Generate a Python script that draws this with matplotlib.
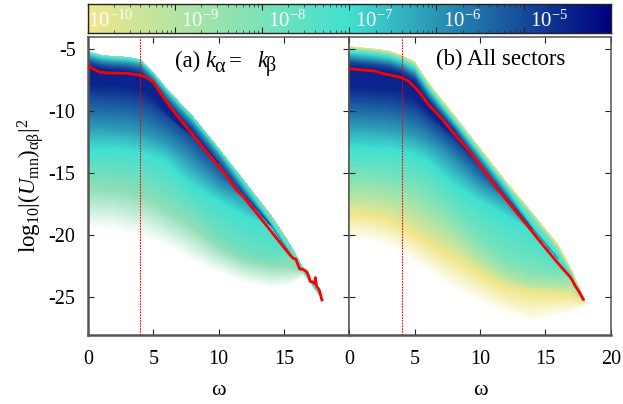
import numpy as np
import matplotlib
matplotlib.use("Agg")
import matplotlib.pyplot as plt
from matplotlib.colors import LinearSegmentedColormap, Normalize

plt.rcParams['font.family'] = ['Liberation Serif', 'DejaVu Serif']
plt.rcParams['mathtext.fontset'] = 'custom'
plt.rcParams['mathtext.rm'] = 'Liberation Serif'
plt.rcParams['mathtext.it'] = 'Liberation Serif:italic'
plt.rcParams['mathtext.bf'] = 'Liberation Serif:bold'

# ---------- red curves ----------
red_a_x = [0.1,0.5,0.9,1.5,2,3,4,4.5,5,5.5,6.05,6.7,8.05,9.3,10.6,11.4,11.9,13.2,14.45,15.4,15.7,15.9,16.2,16.5,16.75,16.9,17.0,17.2,17.35,17.4,17.5,17.7,17.9]
red_a_y = [-6.4,-6.65,-6.85,-6.92,-6.93,-6.95,-7.1,-7.3,-7.65,-8.46,-9.3,-10.2,-11.95,-13.55,-15.2,-16.4,-16.9,-18.6,-20.25,-21.5,-21.85,-21.9,-22.7,-22.75,-22.95,-23.3,-23.7,-23.75,-23.9,-23.4,-24.1,-24.4,-25.2]
red_b_x = [0,1,2,2.5,3,4,4.5,5,5.5,6,7,8,9,10,11,11.3,11.9,13.3,14.6,15.85,16.6,16.9,17.1,17.3,17.5,17.9]
red_b_y = [-6.58,-6.68,-6.77,-6.95,-7.06,-7.3,-7.55,-8.05,-8.65,-9.4,-10.5,-11.8,-13,-14.35,-15.75,-16.2,-17,-18.8,-20.5,-22.1,-23,-23.35,-23.7,-24.1,-24.4,-25.15]

# ---------- panel (a): iso-density tracks, y read at each omega node ----------
om_a = [0,1,2,3,4,5,6,7,8,10,12,14,15.5,16.5,18]
lev_a = [-8.6,-7,-6,-5,-4.5,-4.5,-5,-6,-7,-8,-8.6,-12]
a_edge = [-5.2,-5.5,-5.6,-5.65,-5.85,-6.9,-8.2,-9.3,-10.4,-13.0,-15.7,-18.4,-20.8,-22.7,-25.2]
a_t7   = [-5.4,-5.7,-5.8,-5.85,-6.05,-7.1,-8.4,-9.55,-10.65,-13.25,-16.0,-19.0,-21.5,-22.9,-25.2]
a_t6   = [-5.7,-6.0,-6.1,-6.15,-6.35,-7.4,-8.75,-9.9,-11.0,-13.6,-16.5,-19.2,-21.5,-22.9,-25.2]
a_t5   = [-6.1,-6.4,-6.5,-6.55,-6.8,-7.8,-9.2,-10.4,-11.5,-14.2,-16.8,-19.2,-21.5,-22.9,-25.2]
a_t45  = [-6.4,-6.7,-6.8,-6.85,-7.1,-8.0,-9.4,-10.6,-11.9,-14.2,-16.8,-19.2,-21.5,-22.9,-25.2]
a_b45  = [-7.8,-7.9,-7.9,-8.0,-8.2,-8.8,-10.0,-11.1,-11.9,-14.2,-16.8,-19.2,-21.5,-22.9,-25.2]
a_b5   = [-8.8,-8.9,-8.9,-9.0,-9.2,-9.7,-10.4,-11.2,-12.0,-14.2,-16.8,-19.2,-21.5,-22.9,-25.2]
a_b6   = [-11.1,-11.1,-11.2,-11.3,-11.5,-11.9,-12.4,-13.1,-14.0,-15.8,-16.8,-19.2,-21.5,-22.9,-25.2]
a_b7   = [-13.0,-13.0,-13.0,-13.1,-13.3,-13.6,-14.0,-15.0,-16.0,-17.2,-18.4,-19.2,-21.5,-22.9,-25.2]
a_b8   = [-15.0,-15.0,-15.1,-15.2,-15.5,-15.9,-16.6,-17.3,-18.0,-20.0,-21.3,-22.0,-21.5,-22.9,-25.2]
a_b86  = [-16.2,-16.2,-16.3,-16.5,-16.8,-17.2,-17.9,-18.5,-19.2,-20.8,-21.9,-22.4,-22.4,-22.9,-25.2]
a_fade = [-19.5,-19.5,-19.5,-19.8,-20.0,-20.4,-20.9,-21.4,-22.0,-23.0,-23.8,-24.2,-24.0,-23.2,-25.2]
rows_a = [a_edge,a_t7,a_t6,a_t5,a_t45,a_b45,a_b5,a_b6,a_b7,a_b8,a_b86,a_fade]

# ---------- panel (b) ----------
om_b = [0,1,2,3,4,5,6,7,8,10,12,14,16,17,18]
lev_b = [-10.2,-9,-8,-7,-6,-5,-4.5,-4.5,-5,-6,-7,-8,-9,-10,-12]
b_edge = [-4.8,-4.9,-5.0,-5.15,-5.5,-6.05,-7.65,-9.0,-10.3,-13.0,-15.7,-18.2,-20.8,-22.8,-25.2]
b_t9   = [-4.95,-5.05,-5.15,-5.3,-5.65,-6.25,-7.85,-9.2,-10.5,-13.2,-15.9,-18.4,-21.1,-23.1,-25.2]
b_t8   = [-5.1,-5.2,-5.3,-5.45,-5.8,-6.4,-8.0,-9.35,-10.65,-13.35,-16.05,-18.6,-21.4,-23.2,-25.2]
b_t7   = [-5.3,-5.4,-5.5,-5.65,-6.0,-6.6,-8.2,-9.55,-10.85,-13.55,-16.25,-19.3,-21.9,-23.2,-25.2]
b_t6   = [-5.7,-5.8,-5.9,-6.05,-6.4,-7.0,-8.6,-9.9,-11.2,-13.9,-16.7,-19.5,-21.9,-23.2,-25.2]
b_t5   = [-6.1,-6.2,-6.3,-6.45,-6.8,-7.4,-9.0,-10.3,-11.5,-14.35,-17.0,-19.5,-21.9,-23.2,-25.2]
b_t45  = [-6.5,-6.6,-6.7,-6.85,-7.1,-7.8,-9.3,-10.5,-11.8,-14.35,-17.0,-19.5,-21.9,-23.2,-25.2]
b_b45  = [-8.0,-8.0,-8.1,-8.2,-8.4,-8.9,-9.9,-11.0,-11.8,-14.35,-17.0,-19.5,-21.9,-23.2,-25.2]
b_b5   = [-9.0,-9.0,-9.1,-9.2,-9.4,-9.8,-10.5,-11.4,-12.3,-14.35,-17.0,-19.5,-21.9,-23.2,-25.2]
b_b6   = [-11.0,-11.0,-11.1,-11.2,-11.4,-11.8,-12.3,-13.0,-13.9,-15.8,-17.0,-19.5,-21.9,-23.2,-25.2]
b_b7   = [-12.9,-12.9,-13.0,-13.0,-13.2,-13.5,-14.0,-14.9,-15.9,-17.2,-18.4,-19.5,-21.9,-23.2,-25.2]
b_b8   = [-15.0,-15.0,-15.1,-15.2,-15.5,-15.9,-16.6,-17.3,-18.2,-20.2,-21.8,-22.6,-22.9,-23.2,-25.2]
b_b9   = [-16.7,-16.7,-16.8,-17.0,-17.3,-17.8,-18.5,-19.2,-20.0,-21.8,-23.2,-23.9,-24.0,-24.0,-25.2]
b_b10  = [-18.0,-18.0,-18.2,-18.4,-18.9,-19.6,-20.3,-20.9,-21.5,-22.8,-24.0,-24.4,-24.6,-24.7,-25.3]
b_fade = [-20.4,-20.4,-20.6,-20.9,-21.4,-22.2,-22.9,-23.6,-24.3,-25.4,-26.3,-27.0,-26.5,-26.2,-25.7]
rows_b = [b_edge,b_t9,b_t8,b_t7,b_t6,b_t5,b_t45,b_b45,b_b5,b_b6,b_b7,b_b8,b_b9,b_b10,b_fade]

# ---------- colour bar ----------
cbar_decades = [-10,-9,-8,-7,-6,-5]
cbar_labels = ['$\\mathrm{10^{-10}}$','$\\mathrm{10^{-9}}$','$\\mathrm{10^{-8}}$','$\\mathrm{10^{-7}}$','$\\mathrm{10^{-6}}$','$\\mathrm{10^{-5}}$']

W, H = 623, 404
KHAKI, TURQ, NAVY = '#F0E68C', '#40E0D0', '#000080'

VMIN, VMAX = -12.0, -4.0
def pos(v): return (v - VMIN) / (VMAX - VMIN)
cmap_a = LinearSegmentedColormap.from_list('a', [(0, 'white'), (pos(-8.6), '#8EDDB5'), (pos(-7), TURQ), (1, NAVY)], N=512)
cmap_b = LinearSegmentedColormap.from_list('b', [(0, 'white'), (pos(-10.2), KHAKI), (pos(-7), TURQ), (1, NAVY)], N=512)
cmap_bar = LinearSegmentedColormap.from_list('bar', [KHAKI, TURQ, NAVY], N=512)
norm = Normalize(VMIN, VMAX)

def axpx(l, t, r, b):
    return [l / W, 1 - b / H, (r - l) / W, (b - t) / H]

fig = plt.figure(figsize=(W / 100, H / 100), dpi=100)
axa = fig.add_axes(axpx(88, 36.7, 349.3, 334.7))
axb = fig.add_axes(axpx(349.3, 36.7, 610.7, 334.7))
cax = fig.add_axes(axpx(88, 4, 610.7, 33))

FS = 14.5
GREY = '#555555'
fill_levels = np.linspace(-12.0, -4.4, 153)
for ax, om, rows, lev, cm, rx, ry in ((axa, om_a, rows_a, lev_a, cmap_a, red_a_x, red_a_y),
                                      (axb, om_b, rows_b, lev_b, cmap_b, red_b_x, red_b_y)):
    Y = np.array(rows)
    X = np.tile(np.array(om, float), (len(rows), 1))
    C = np.tile(np.array(lev, float)[:, None], (1, len(om)))
    ax.contourf(X, Y, C, levels=fill_levels, cmap=cm, norm=norm, zorder=1, antialiased=False, extend='max')
    ax.axvline(4, color='red', lw=0.8, ls=(0, (1.5, 1)), zorder=2)
    ax.plot(rx, ry, color='#ff0000', lw=2.0, zorder=3, solid_joinstyle='round')
    ax.set_xlim(0, 20)
    ax.set_ylim(-28, -4)
    ax.set_xticks([0, 5, 10, 15, 20])
    ax.set_yticks([-5, -10, -15, -20, -25])
    ax.tick_params(direction='in', top=True, right=True, length=4, width=0.8, color='#222222', labelsize=FS)
    ax.tick_params(axis='x', pad=11)
    ax.tick_params(axis='y', pad=9)
    for s in ax.spines.values():
        s.set_linewidth(1.1)
        s.set_color(GREY)
    ax.spines['bottom'].set_linewidth(1.8)
    ax.set_xlabel('ω', fontsize=16, labelpad=9)

axa.spines['left'].set_linewidth(1.8)
axa.set_xticks([0, 5, 10, 15])
axa.set_ylabel('$\\mathrm{log_{10}|(}\\mathit{U}_{\\mathrm{mn}}\\mathrm{)_{αβ}|^2}$', fontsize=16.5, labelpad=2)
axb.tick_params(labelleft=False)
axa.set_yticklabels(['-5', '-10', '-15', '-20', '-25'])

def t(px, py, s, size=16.4, style='normal'):
    fig.text(px / W, 1 - py / H, s, fontsize=size, style=style, ha='left', va='baseline')

t(175, 66.7, '(a)')
t(205.5, 66.7, 'k', style='italic')
t(214.5, 71.5, 'α', size=14.5)
t(229, 66.7, '=')
t(257, 66.7, 'k', style='italic')
t(266, 71.5, 'β', size=14.5)
axb.text(0.33, 0.925, '(b) All sectors', transform=axb.transAxes, fontsize=16.4, ha='left', va='center')

# colour bar
grad = np.linspace(0, 1, 512)[None, :]
cax.imshow(grad, extent=[-10, -4, 0, 1], aspect='auto', cmap=cmap_bar, origin='lower')
cax.set_xlim(-10, -4)
cax.set_ylim(0, 1)
cax.set_yticks([])
major = cbar_decades + [-4]
minor = [d + np.log10(k) for d in cbar_decades for k in range(2, 10)]
cax.set_xticks(major)
cax.set_xticks(minor, minor=True)
cax.tick_params(axis='x', which='major', direction='in', top=True, length=4, width=0.8, labelbottom=False, color='#222222')
cax.tick_params(axis='x', which='minor', direction='in', top=True, length=2, width=0.5, color='#222222')
for s in cax.spines.values():
    s.set_linewidth(1.0)
    s.set_color('#222222')
offs = [0.0, 0.07, 0.07, 0.07, 0.07, 0.07]
for d, lab, o in zip(cbar_decades, cbar_labels, offs):
    cax.text(d + o, 0.42, lab, color='white', fontsize=15, ha='left', va='center')

fig.savefig('out.png', dpi=100)
